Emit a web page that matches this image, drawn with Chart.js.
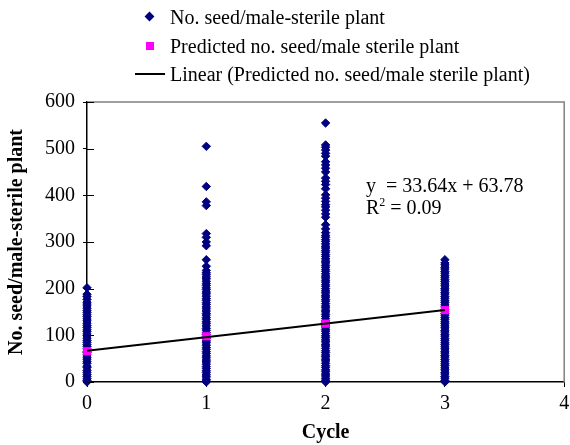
<!DOCTYPE html>
<html>
<head>
<meta charset="utf-8">
<script src="https://cdn.jsdelivr.net/npm/chart.js@4.4.1/dist/chart.umd.min.js"></script>
<style>
    body { margin: 0; background: #fff; }
    #wrap { position: relative; width: 570px; height: 445px; overflow: hidden; font-family: 'Liberation Serif', 'Times New Roman', serif; color: #000; }
    .leg { position: absolute; left: 130px; height: 28px; line-height: 28px; font-size: 20px; white-space: nowrap; }
    .leg .mk { position: absolute; top: 14px; }
    .leg .txt { position: absolute; left: 40px; }
    #eq { position: absolute; left: 366px; top: 174px; font-size: 20px; line-height: 22px; white-space: pre; }
    #eq sup { font-size: 12px; line-height: 0; }
</style>
</head>
<body>
<div id="wrap">
    <canvas id="chart" width="570" height="445"></canvas>
    <div class="leg" style="top:3px"><span class="mk" style="left:16px;margin-top:-4px;width:7px;height:7px;background:#000080;transform:rotate(45deg)"></span><span class="txt" id="leg0"></span></div>
    <div class="leg" style="top:32px"><span class="mk" style="left:16px;margin-top:-4px;width:8px;height:8px;background:#ff00ff"></span><span class="txt" id="leg1"></span></div>
    <div class="leg" style="top:60px"><span class="mk" style="left:5px;margin-top:-1px;width:30px;height:2px;background:#000"></span><span class="txt" id="leg2"></span></div>
    <div id="eq">y  = 33.64x + 63.78
R<sup>2</sup> = 0.09</div>
</div>
<script>
const cycles = [0, 1, 2, 3];

// seeds per male-sterile plant, one list per cycle
const cycle0Seeds = [0, 3, 7, 12, 16, 21, 25, 31, 34, 40, 44, 49, 53, 58, 63, 66, 71, 76, 80, 85, 89, 94, 99, 103, 108, 112,
    117, 121, 126, 131, 135, 140, 144, 149, 153, 158, 163, 167, 171, 177, 183, 188, 202];
const cycle1Seeds = [0, 2, 6, 11, 15, 20, 24, 29, 33, 38, 43, 47, 52, 56, 61, 65, 70, 74, 79, 84, 88, 93, 97, 102, 106, 111,
    115, 120, 125, 129, 134, 138, 143, 147, 152, 157, 161, 166, 170, 175, 179, 184, 189, 193, 198, 202, 207, 211, 216,
    221, 225, 230, 234, 239, 248, 262, 292, 300, 310, 318, 378, 386, 419, 505];
const cycle2Seeds = [0, 4, 8, 13, 17, 22, 26, 31, 35, 40, 45, 49, 54, 58, 63, 67, 72, 77, 81, 86, 90, 95, 99, 104, 109, 113,
    118, 122, 127, 131, 136, 141, 145, 150, 154, 159, 163, 168, 173, 177, 182, 186, 191, 195, 200, 205, 209, 214, 218,
    223, 227, 232, 237, 241, 246, 250, 255, 259, 264, 269, 273, 278, 282, 287, 291, 296, 301, 305, 310, 314, 320, 328,
    337, 353, 360, 368, 375, 380, 387, 394, 401, 414, 423, 430, 437, 450, 458, 465, 472, 484, 490, 497, 503, 508, 555];
const cycle3Seeds = [0, 3, 8, 12, 17, 21, 26, 30, 35, 39, 44, 48, 53, 57, 62, 66, 71, 75, 80, 84, 89, 93, 98, 102, 107, 111,
    116, 120, 125, 129, 134, 138, 143, 147, 152, 156, 161, 165, 170, 174, 179, 183, 188, 192, 197, 201, 206, 210, 215,
    219, 224, 228, 233, 237, 242, 246, 251, 255, 262];
const predictedSeeds = [66, 98, 125, 154];

const xTicks = [0, 1, 2, 3, 4];
const yTicks = [0, 100, 200, 300, 400, 500, 600];

const seriesNames = [
    'No. seed/male-sterile plant',
    'Predicted no. seed/male sterile plant',
    'Linear (Predicted no. seed/male sterile plant)'
];

const seedLists = [cycle0Seeds, cycle1Seeds, cycle2Seeds, cycle3Seeds];
const observed = [];
seedLists.forEach((list, i) => list.forEach(v => observed.push({x: cycles[i], y: v})));
const predicted = cycles.map((c, i) => ({x: c, y: predictedSeeds[i]}));

// least squares fit through the predicted points
function linearFit(xs, ys) {
    const n = xs.length;
    const mx = xs.reduce((a, b) => a + b, 0) / n;
    const my = ys.reduce((a, b) => a + b, 0) / n;
    let sxy = 0, sxx = 0;
    for (let i = 0; i < n; i++) {
        sxy += (xs[i] - mx) * (ys[i] - my);
        sxx += (xs[i] - mx) * (xs[i] - mx);
    }
    const slope = sxy / sxx;
    return {slope: slope, intercept: my - slope * mx};
}
const fit = linearFit(cycles, predictedSeeds);
const trend = [cycles[0], cycles[cycles.length - 1]].map(x => ({x: x, y: fit.intercept + fit.slope * x}));

const serif = "'Liberation Serif', 'Times New Roman', serif";

// grey frame on top/right plus the inner half of the y ticks
const framePlugin = {
    id: 'frame',
    afterDraw(chart) {
        const {ctx, chartArea} = chart;
        const yScale = chart.scales.y;
        ctx.save();
        ctx.strokeStyle = '#808080';
        ctx.lineWidth = 1.5;
        ctx.beginPath();
        ctx.moveTo(chartArea.left, chartArea.top);
        ctx.lineTo(chartArea.right, chartArea.top);
        ctx.lineTo(chartArea.right, chartArea.bottom);
        ctx.stroke();
        ctx.strokeStyle = '#000';
        ctx.lineWidth = 1;
        ctx.beginPath();
        yTicks.forEach(v => {
            const py = Math.round(yScale.getPixelForValue(v)) + 0.5;
            ctx.moveTo(chartArea.left, py);
            ctx.lineTo(chartArea.left + 7, py);
        });
        ctx.stroke();
        ctx.restore();
    }
};

const ctx = document.getElementById('chart').getContext('2d');
new Chart(ctx, {
    type: 'scatter',
    data: {
        datasets: [{
            label: seriesNames[0],
            data: observed,
            pointStyle: 'rectRot',
            pointRadius: 4.2,
            backgroundColor: '#000080',
            borderColor: '#000080',
            borderWidth: 1,
            clip: false,
            order: 3
        }, {
            label: seriesNames[1],
            data: predicted,
            pointStyle: 'rect',
            pointRadius: 5.8,
            backgroundColor: '#ff00ff',
            borderColor: '#ff00ff',
            borderWidth: 0,
            clip: false,
            order: 2
        }, {
            type: 'line',
            label: seriesNames[2],
            data: trend,
            borderColor: '#000',
            borderWidth: 2,
            pointRadius: 0,
            fill: false,
            clip: false,
            order: 1
        }]
    },
    options: {
        responsive: false,
        animation: false,
        layout: {
            padding: {top: 102, right: 4, left: 0, bottom: 0}
        },
        plugins: {
            legend: {display: false},
            tooltip: {enabled: false}
        },
        scales: {
            x: {
                type: 'linear',
                min: 0,
                max: 4,
                afterBuildTicks: scale => { scale.ticks = xTicks.map(v => ({value: v})); },
                afterFit: scale => {
                    scale.height = 63;
                    scale.paddingLeft = 0;
                    scale.paddingRight = 0;
                },
                ticks: {
                    color: '#000',
                    padding: 5,
                    font: {family: serif, size: 20}
                },
                grid: {
                    display: true,
                    drawOnChartArea: false,
                    drawTicks: true,
                    tickLength: 5,
                    color: '#000'
                },
                border: {color: '#000', width: 1.5},
                title: {
                    display: true,
                    text: 'Cycle',
                    color: '#000',
                    padding: {top: 0, bottom: 0},
                    font: {family: serif, size: 20, weight: 'bold'}
                }
            },
            y: {
                min: 0,
                max: 600,
                afterBuildTicks: scale => { scale.ticks = yTicks.map(v => ({value: v})); },
                afterFit: scale => {
                    scale.width = 87;
                    scale.paddingTop = 0;
                    scale.paddingBottom = 0;
                },
                ticks: {
                    color: '#000',
                    padding: 8,
                    font: {family: serif, size: 20}
                },
                grid: {
                    display: true,
                    drawOnChartArea: false,
                    drawTicks: true,
                    tickLength: 4,
                    color: '#000'
                },
                border: {color: '#000', width: 1.5},
                title: {
                    display: true,
                    text: 'No. seed/male-sterile plant',
                    color: '#000',
                    padding: {top: 5, bottom: 0},
                    font: {family: serif, size: 20, weight: 'bold'}
                }
            }
        }
    },
    plugins: [framePlugin]
});

document.getElementById('leg0').textContent = seriesNames[0];
document.getElementById('leg1').textContent = seriesNames[1];
document.getElementById('leg2').textContent = seriesNames[2];
</script>
</body>
</html>
